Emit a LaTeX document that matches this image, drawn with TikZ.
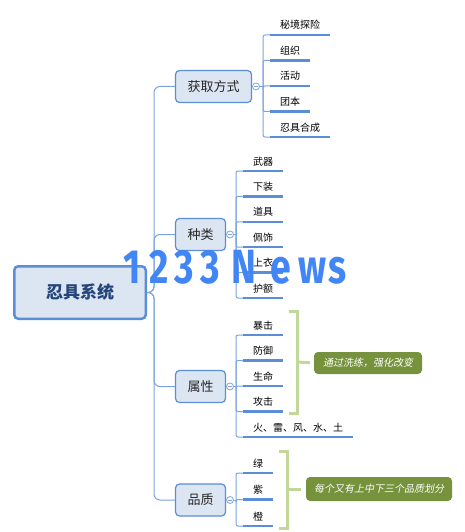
\documentclass[tikz,border=0pt]{standalone}
\usepackage{fontspec}
\usepackage{graphicx}
\setmainfont{Noto Sans CJK SC}
\newfontfamily\slantcjk[FakeSlant=0.2]{Noto Sans CJK SC}
\newfontfamily\markfont{Fira Sans}
\usetikzlibrary{positioning}
\definecolor{boxfill}{HTML}{DCE6F2}
\definecolor{boxline}{HTML}{5B8ED6}
\definecolor{linkcol}{HTML}{7CA4DC}
\definecolor{bracecol}{HTML}{C4D79B}
\definecolor{notefill}{HTML}{76923C}
\definecolor{markcol}{HTML}{4285F4}
\definecolor{rootcol}{HTML}{24457A}

\begin{document}
\begin{tikzpicture}[x=1pt,y=-1pt,
    rootbox/.style={draw=boxline,fill=boxfill,line width=2.5pt,rounded corners=4pt,minimum width=131.5pt,minimum height=52.5pt,font=\fontsize{17}{17}\selectfont\bfseries,text=rootcol},
    branch/.style={draw=boxline,fill=boxfill,line width=1.2pt,rounded corners=4pt,minimum height=32pt,inner xsep=12pt,font=\fontsize{13}{13}\selectfont,text=black!85},
    fold/.style={circle,draw=linkcol,fill=white,line width=0.8pt,minimum size=7pt,inner sep=0pt,anchor=west,
        path picture={\draw[linkcol,line width=0.6pt] ([xshift=-2pt]path picture bounding box.center) -- ([xshift=2pt]path picture bounding box.center);}},
    leaf/.style={anchor=south west,inner xsep=10pt,inner ysep=4.5pt,outer sep=0pt,text height=8.5pt,text depth=1.5pt,font=\fontsize{10}{10}\selectfont},
    uline/.style={draw=boxline,line width=2.5pt},
    link/.style={draw=linkcol,line width=1pt},
    brace/.style={draw=bracecol,line width=3pt},
    note/.style={fill=notefill,rounded corners=4pt,text=white,inner xsep=9pt,font=\slantcjk\fontsize{10}{10}\selectfont},
    wmark/.style={anchor=base,inner sep=0pt,text=markcol,font=\markfont\bfseries\fontsize{48}{48}\selectfont}]
    \useasboundingbox (0,0) rectangle (465,532);

    % root and main branches
    \node[rootbox] (root) at (80,292.5) {忍具系统};
    \node[branch] (get) at (213.5,86.5) {获取方式};
    \node[branch] (kind) at (200.5,234.5) {种类};
    \node[branch] (attr) at (200.5,386.5) {属性};
    \node[branch] (grade) at (200.5,500) {品质};
    \foreach \b in {get,kind,attr,grade}
        \draw[link,rounded corners=6pt] (root.east) -- (154,292.5) |- (\b.west);

    % fold buttons
    \foreach \b in {get,kind,attr,grade}
        \node[fold] (\b f) at (\b.east) {};

    % 获取方式
    \coordinate (getj) at (263,86.5);
    \draw[link] (getf.east) -- (getj);
    \foreach \t [count=\i] in {秘境探险,组织,活动,团本,忍具合成} {
        \node[leaf] (a\i) at (270,{35+25.5*(\i-1)}) {\t};
        \draw[link,rounded corners=2pt] (getj) |- (a\i.south west);
        \draw[uline] (a\i.south west) -- (a\i.south east);
    }

    % 种类
    \coordinate (kindj) at (236,234.5);
    \draw[link] (kindf.east) -- (kindj);
    \foreach \t [count=\i] in {武器,下装,道具,佩饰,上衣,护额} {
        \node[leaf] (k\i) at (243,{171+25.4*(\i-1)}) {\t};
        \draw[link,rounded corners=2pt] (kindj) |- (k\i.south west);
        \draw[uline] (k\i.south west) -- (k\i.south east);
    }

    % 属性
    \coordinate (attrj) at (236,386.5);
    \draw[link] (attrf.east) -- (attrj);
    \foreach \t [count=\i] in {暴击,防御,生命,攻击,火、雷、风、水、土} {
        \node[leaf] (s\i) at (243,{335+25.5*(\i-1)}) {\t};
        \draw[link,rounded corners=2pt] (attrj) |- (s\i.south west);
        \draw[uline] (s\i.south west) -- (s\i.south east);
    }

    % 品质
    \coordinate (gradej) at (236,500);
    \draw[link] (gradef.east) -- (gradej);
    \foreach \t [count=\i] in {绿,紫,橙} {
        \node[leaf] (q\i) at (243,{473+26.5*(\i-1)}) {\t};
        \draw[link,rounded corners=2pt] (gradej) |- (q\i.south west);
        \draw[uline] (q\i.south west) -- (q\i.south east);
    }

    % brackets and notes
    \draw[brace] (289,311) -- (297,311) -- (297,413) -- (289,413);
    \coordinate (br1) at (297,362);
    \node[note,minimum height=22pt] (n1) at (368,363) {通过洗练，强化改变};
    \draw[brace,shorten >=4pt] (br1) -- (n1.west);

    \draw[brace] (279,451) -- (287,451) -- (287,528) -- (279,528);
    \coordinate (br2) at (287,489);
    \node[note,minimum height=24pt,inner xsep=8pt] (n2) at (379,489) {每个又有上中下三个品质划分};
    \draw[brace,shorten >=5pt] (br2) -- (n2.west);

    % watermark
    \foreach \c/\x in {1/132,2/159,3/184,3/210,N/244,e/281,w/313,s/338}
        \node[wmark] (w\x) at (\x,283) {\scalebox{0.78}[1]{\c}};
\end{tikzpicture}
\end{document}
